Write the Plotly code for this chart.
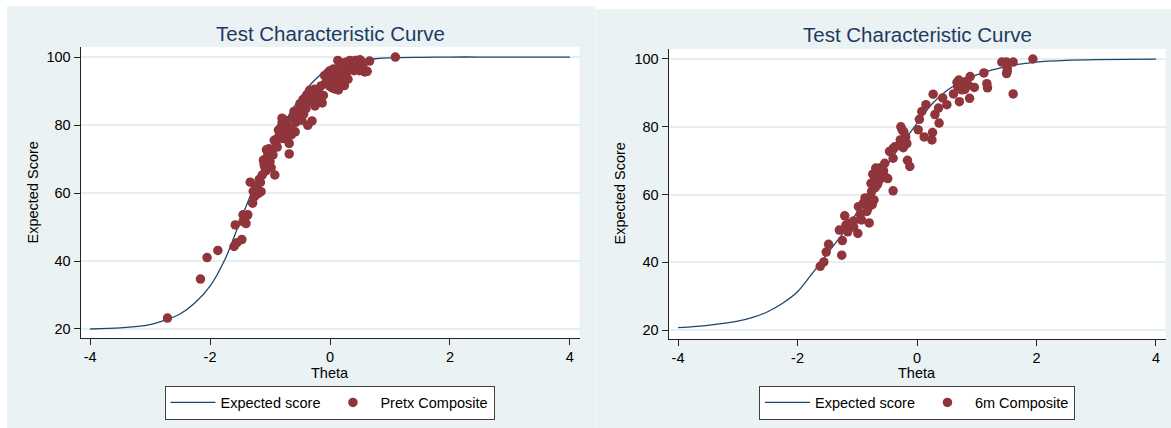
import plotly.graph_objects as go

# ---------------- data ----------------
theta_grid = [-4, -3.5, -3, -2.75, -2.5, -2.25, -2, -1.75, -1.5, -1.25, -1, -0.75,
              -0.5, -0.25, 0, 0.25, 0.5, 0.75, 1, 1.5, 2, 2.5, 3, 4]
tcc_pretx = [20.0, 20.3, 21.3, 22.6, 24.4, 27.7, 32.6, 40.5, 51.6, 62.5, 72.0, 81.0,
             88.0, 93.3, 96.8, 98.4, 99.1, 99.5, 99.75, 99.9, 100, 100, 100, 100]
tcc_6m = [20.7, 21.4, 22.6, 23.7, 25.4, 27.9, 31.3, 36.8, 42.6, 48.3, 54.8, 61.8,
          68.7, 75.0, 81.0, 86.7, 90.7, 93.4, 95.3, 97.8, 99.1, 99.6, 99.8, 99.95]

pretx_theta = [-2.71, -2.16, -2.05, -1.87, -1.60, -1.55, -1.47, -1.58, -1.45, -1.42,
               -1.45, -1.37, -1.33, -1.29, -1.26, -1.20, -1.15, -1.23, -1.16, -1.13,
               -1.07, -0.98, -0.92, -1.09, -1.11, -1.04, -1.06, -0.97, -0.95, -1.00,
               -0.90, -0.87, -0.84, -0.82, -0.80, -0.75, -0.70, -0.68, -0.68, -0.74,
               -0.58, -0.57, -0.54, -0.47, -0.44, -0.37, -0.30, -0.50, -0.40, -0.36,
               -0.34, -0.26, -0.20, -0.17, -0.13, -0.25, -0.11, -0.09, -0.04, 0.00,
               0.04, 0.03, 0.08, 0.13, 0.18, 0.24, 0.27, 0.34, 0.33, 0.40,
               0.42, 0.44, 0.49, 0.58, 0.66, 1.09, -0.88, -0.86, -0.78, -0.72,
               -0.62, -0.60, -0.52, -0.45, -0.38, -0.30, -0.22, -0.15, -0.07, -0.03,
               0.02, 0.06, 0.10, 0.12, 0.15, 0.20, 0.22, 0.26, 0.30, 0.36,
               0.38, 0.46, 0.52, 0.55, 0.62, 0.14, 0.07, -0.01, 0.30, 0.50,
               -1.40, -1.28, -1.18, -1.10, -1.02, -0.93, -0.80, -0.66, -0.64, 0.23]
pretx_score = [23.2, 34.7, 41.0, 43.1, 44.3, 45.4, 46.3, 50.6, 51.6, 52.4,
               53.6, 53.6, 63.2, 57.0, 58.9, 59.8, 60.4, 62.0, 63.1, 65.3,
               66.5, 67.4, 65.3, 67.8, 69.7, 70.9, 72.7, 72.7, 71.2, 69.2,
               74.6, 76.2, 77.8, 79.2, 80.6, 81.4, 76.3, 74.6, 71.5, 78.5,
               78.0, 80.8, 82.5, 81.4, 83.2, 79.9, 81.2, 86.3, 84.8, 86.8,
               90.2, 90.5, 90.2, 87.0, 86.5, 85.6, 88.7, 94.6, 95.3, 96.0,
               93.6, 91.0, 90.6, 99.0, 93.1, 91.6, 95.1, 97.5, 99.0, 96.0,
               99.0, 99.0, 96.0, 95.6, 98.8, 100.0, 73.5, 78.5, 76.0, 80.0,
               82.0, 84.0, 84.5, 87.5, 89.0, 88.0, 88.8, 91.5, 92.5, 93.8,
               95.5, 96.5, 94.5, 92.0, 96.8, 97.8, 95.0, 98.5, 93.5, 96.5,
               98.2, 97.5, 98.8, 97.0, 95.8, 90.3, 92.8, 91.5, 97.0, 99.2,
               51.0, 60.5, 64.0, 68.5, 73.0, 75.5, 82.0, 79.0, 77.2, 92.6]

m6_theta = [-1.62, -1.56, -1.52, -1.48, -1.26, -1.25, -1.21, -1.30, -1.19, -1.16,
            -1.06, -0.99, -1.06, -0.95, -0.98, -0.90, -0.80, -0.87, -0.85, -0.78,
            -0.76, -0.72, -0.77, -0.71, -0.69, -0.63, -0.59, -0.54, -0.49, -0.40,
            -0.46, -0.40, -0.40, -0.37, -0.28, -0.25, -0.19, -0.17, -0.23, -0.16,
            -0.12, 0.02, 0.04, 0.08, 0.15, 0.27, 0.12, 0.25, 0.26, 0.30,
            0.36, 0.37, 0.43, 0.50, 0.61, 0.67, 0.68, 0.71, 0.75, 0.81,
            0.86, 0.88, 0.89, 0.96, 1.12, 1.17, 1.18, 1.42, 1.50, 1.51,
            1.51, 1.61, 1.61, 1.94, -0.82, -0.75, -0.70, -0.66, -0.74, -0.60,
            -0.56, -0.52, -0.30, -0.27, -0.22, -0.20, -0.93, -0.84, -1.12, 0.70,
            0.80, 1.50]
m6_score = [38.8, 40.1, 43.0, 45.3, 42.1, 46.4, 53.7, 49.5, 51.0, 49.0,
            50.4, 48.5, 52.2, 54.2, 56.4, 57.4, 51.6, 59.0, 57.4, 59.4,
            60.9, 58.4, 63.3, 65.3, 67.8, 64.3, 66.5, 69.2, 64.7, 61.1,
            72.7, 73.6, 70.7, 74.1, 76.1, 79.1, 77.0, 75.0, 73.8, 70.1,
            68.3, 79.1, 82.2, 84.5, 86.5, 89.6, 77.0, 76.1, 78.3, 83.6,
            85.5, 81.1, 88.5, 86.5, 89.7, 93.1, 91.9, 87.4, 90.9, 93.3,
            92.3, 88.4, 94.8, 91.6, 95.9, 92.7, 91.5, 99.1, 99.1, 96.4,
            97.4, 99.1, 89.7, 100.0, 56.0, 57.0, 62.0, 63.0, 66.0, 68.0,
            67.0, 65.0, 74.5, 80.0, 78.5, 75.8, 52.5, 55.0, 51.5, 93.8,
            91.0, 95.7]

x_tickvals = [-4, -2, 0, 2, 4]
x_ticktext = ["-4", "-2", "0", "2", "4"]
y_tickvals = [20, 40, 60, 80, 100]
y_ticktext = ["20", "40", "60", "80", "100"]

# ---------------- styling ----------------
W, H = 1171, 428
NAVY = "#1A476F"
MAROON = "#90353B"
PANEL = "#EAF2F3"
GRID = "#E6EEF0"
FONT = "Liberation Sans, Arial, Helvetica, sans-serif"
TITLE_COLOR = "#1E3A62"

def px_x(p):
    return p / W

def px_y(p):
    return 1 - p / H

fig = go.Figure()

# left panel
fig.add_trace(go.Scatter(x=theta_grid, y=tcc_pretx, mode="lines", name="Expected score",
                         line=dict(color=NAVY, width=1.3, shape="spline", smoothing=0.8),
                         xaxis="x", yaxis="y", legend="legend"))
fig.add_trace(go.Scatter(x=pretx_theta, y=pretx_score, mode="markers", name="Pretx Composite",
                         marker=dict(color=MAROON, size=9.5, line=dict(width=0)),
                         xaxis="x", yaxis="y", legend="legend"))
# right panel
fig.add_trace(go.Scatter(x=theta_grid, y=tcc_6m, mode="lines", name="Expected score",
                         line=dict(color=NAVY, width=1.3, shape="spline", smoothing=0.8),
                         xaxis="x2", yaxis="y2", legend="legend2"))
fig.add_trace(go.Scatter(x=m6_theta, y=m6_score, mode="markers", name="6m Composite",
                         marker=dict(color=MAROON, size=9.5, line=dict(width=0)),
                         xaxis="x2", yaxis="y2", legend="legend2"))

axis_common = dict(showline=True, linecolor="#222222", linewidth=1, ticks="outside",
                   ticklen=6, tickcolor="#222222", tickwidth=1, zeroline=False,
                   tickfont=dict(family=FONT, size=14.5, color="#000000"))

L = dict(x0=80.5, x1=579.5, y0=47, y1=338)
R = dict(x0=668.5, x1=1165.5, y0=49, y1=339)

for sfx, box in (("", L), ("2", R)):
    fig.update_layout(**{
        "xaxis" + sfx: dict(domain=[px_x(box["x0"]), px_x(box["x1"])],
                            range=[-4.16, 4.16], tickvals=x_tickvals, ticktext=x_ticktext,
                            showgrid=False, anchor="y" + sfx, **axis_common),
        "yaxis" + sfx: dict(domain=[px_y(box["y1"]), px_y(box["y0"])],
                            range=[17.35, 102.95], tickvals=y_tickvals, ticktext=y_ticktext,
                            showgrid=True, gridcolor=GRID, gridwidth=1.6,
                            anchor="x" + sfx, **axis_common),
    })

shapes = [
    dict(type="rect", xref="paper", yref="paper", x0=px_x(7), x1=px_x(595.5),
         y0=0, y1=px_y(6), fillcolor=PANEL, line=dict(width=0), layer="below"),
    dict(type="rect", xref="paper", yref="paper", x0=px_x(596), x1=1,
         y0=0, y1=px_y(9), fillcolor=PANEL, line=dict(width=0), layer="below"),
]
for box in (L, R):
    shapes.append(dict(type="rect", xref="paper", yref="paper",
                       x0=px_x(box["x0"]), x1=px_x(box["x1"]),
                       y0=px_y(box["y1"]), y1=px_y(box["y0"]),
                       fillcolor="white", line=dict(width=0), layer="below"))

annotations = []
for box, ty in ((L, 33), (R, 35)):
    cx = (box["x0"] + box["x1"]) / 2
    annotations.append(dict(text="Test Characteristic Curve", xref="paper", yref="paper",
                            x=px_x(cx), y=px_y(ty), showarrow=False, xanchor="center",
                            yanchor="middle", font=dict(family=FONT, size=20.5, color=TITLE_COLOR)))
    annotations.append(dict(text="Theta", xref="paper", yref="paper",
                            x=px_x(cx), y=px_y(373), showarrow=False, xanchor="center",
                            yanchor="middle", font=dict(family=FONT, size=14.5, color="#000000")))
for box, lx in ((L, 32), (R, 619.5)):
    cy = (box["y0"] + box["y1"]) / 2
    annotations.append(dict(text="Expected Score", xref="paper", yref="paper",
                            x=px_x(lx), y=px_y(cy), showarrow=False, textangle=-90,
                            xanchor="center", yanchor="middle",
                            font=dict(family=FONT, size=14.5, color="#000000")))

legend_common = dict(orientation="h", bgcolor="white", bordercolor="#404040", borderwidth=1,
                     font=dict(family=FONT, size=14.5, color="#000000"),
                     xanchor="center", yanchor="top", itemwidth=45, tracegroupgap=0)

fig.update_layout(
    width=W, height=H, margin=dict(l=0, r=0, t=0, b=0),
    paper_bgcolor="white", plot_bgcolor="white",
    showlegend=True,
    legend=dict(x=px_x(329.5), y=px_y(385.5), **legend_common),
    legend2=dict(x=px_x(917), y=px_y(385.5), **legend_common),
    shapes=shapes, annotations=annotations,
    font=dict(family=FONT),
)

fig.write_html("out.html", config={"displayModeBar": False},
               post_script="document.body.style.margin='0px';"
                           "document.body.style.overflow='hidden';")
